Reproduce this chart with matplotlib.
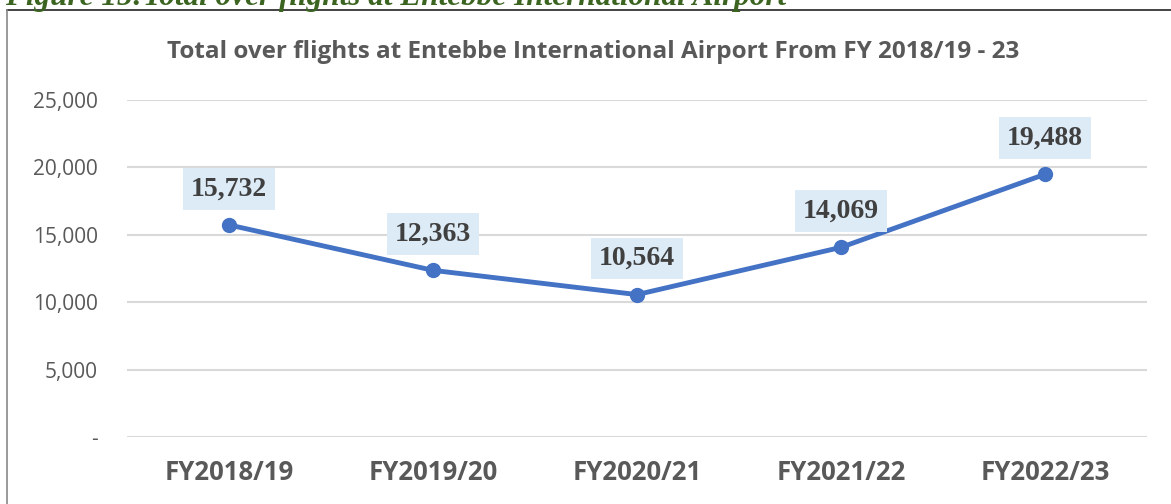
import matplotlib.pyplot as plt
from matplotlib.lines import Line2D

# data
years = ['FY2018/19', 'FY2019/20', 'FY2020/21', 'FY2021/22', 'FY2022/23']
flights = [15732, 12363, 10564, 14069, 19488]
yticks = [0, 5000, 10000, 15000, 20000, 25000]
ytick_labels = ['-', '5,000', '10,000', '15,000', '20,000', '25,000']

W, H = 1171, 504
fig = plt.figure(figsize=(W / 100, H / 100), dpi=100)
ax = fig.add_axes([127 / W, 67 / H, 1020 / W, 337 / H])

x = list(range(len(years)))
ax.plot(x, flights, color='#4472C4', lw=3.5, marker='o', ms=10, zorder=3)

for xi, v in zip(x, flights):
    ax.annotate(f'{v:,}', (xi, v), xytext=(0, 26), textcoords='offset points',
                ha='center', va='center', fontsize=20, fontweight='bold',
                family='Liberation Serif', color='#404040',
                bbox=dict(boxstyle='square,pad=0.3', fc='#DDEBF7', ec='none'),
                zorder=4)

ax.set_xlim(-0.5, len(years) - 0.5)
ax.set_ylim(0, 25000)
ax.set_yticks(yticks)
ax.set_yticklabels(ytick_labels, fontsize=15, color='#595959', family='Open Sans')
ax.set_xticks(x)
ax.set_xticklabels(years, fontsize=18.5, fontweight='bold', color='#595959',
                   family='Open Sans')
ax.tick_params(length=0)
ax.tick_params(axis='y', pad=21)
ax.tick_params(axis='x', pad=16)
ax.grid(axis='y', color='#D9D9D9', lw=1.5)
ax.set_axisbelow(True)
for s in ax.spines.values():
    s.set_visible(False)

fig.text(593 / W, 1 - 52 / H, 'Total over flights at Entebbe International Airport From FY 2018/19 - 23',
         ha='center', va='center', fontsize=17.5, fontweight='bold', color='#595959',
         family='Open Sans')

# cut-off caption above the frame
fig.text(5 / W, 1 - 5 / H, 'Figure 15:Total over flights at Entebbe International Airport',
         ha='left', va='baseline', fontsize=22.5, fontweight='bold', style='italic',
         color='#3B6420', family='Liberation Serif')

# frame around the chart
fig.add_artist(Line2D([7 / W, 1], [1 - 10 / H, 1 - 10 / H], color='#222222', lw=1.2))
fig.add_artist(Line2D([7 / W, 7 / W], [0, 1 - 10 / H], color='#888888', lw=1.2))

fig.savefig('out.png', dpi=100)
